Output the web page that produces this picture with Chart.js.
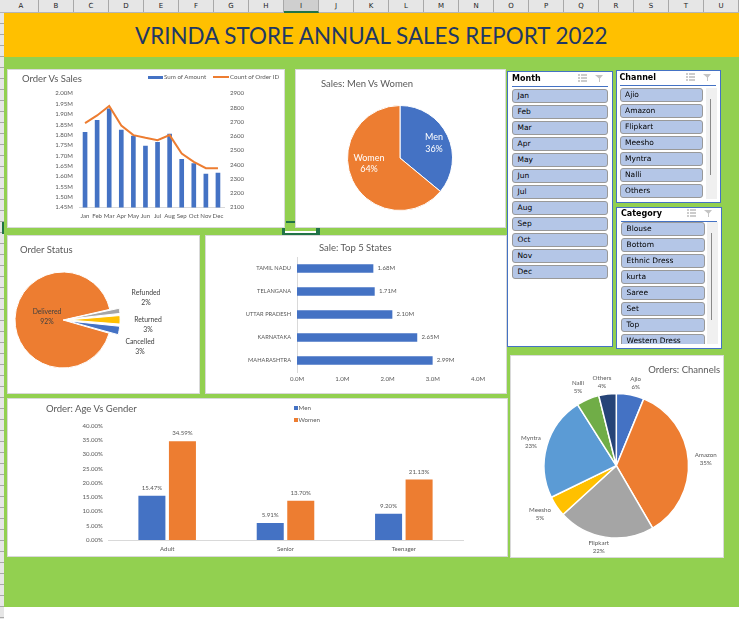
<!DOCTYPE html>
<html>
<head>
<meta charset="utf-8">
<title>Vrinda Store Annual Sales Report 2022</title>
<script src="https://cdn.jsdelivr.net/npm/chart.js@4"></script>
<style>
html, body { margin: 0; padding: 0; background: #fff; }
#sheet { position: relative; width: 750px; height: 619px; overflow: hidden; font-family: Lato, sans-serif; color: #595959; background: #fff; }
.abs { position: absolute; }
#colhead { left: 0; top: 0; width: 739px; height: 13px; background: #e6e6e6; border-bottom: 1px solid #b5b5b5; box-sizing: border-box; }
.col { position: absolute; top: 0; width: 35px; height: 12px; border-right: 1px solid #a8a8a8; box-sizing: border-box; text-align: center; font: 7px/13px "DejaVu Sans", sans-serif; color: #222; }
.col.sel { background: #cfcfcf; border-bottom: 2px solid #217346; height: 13px; }
#rowhead { left: 0; top: 13px; width: 3.5px; height: 606px; background: repeating-linear-gradient(to bottom, #e6e6e6 0, #e6e6e6 9.8px, #a8a8a8 9.8px, #a8a8a8 11px); }
#green { left: 3.5px; top: 57px; width: 735.5px; height: 550px; background: #92d050; }
#banner { left: 3.5px; top: 13px; width: 735.5px; height: 44px; background: #ffc000; text-align: center; font-size: 22.4px; line-height: 45px; color: #1f3864; }
.card { position: absolute; background: #fff; box-shadow: inset 0 0 0 1px #d9d9d9; }
.card canvas { position: absolute; left: 0; top: 0; }
.title { position: absolute; font-size: 9.5px; line-height: 13px; white-space: nowrap; color: #595959; }
.legend { position: absolute; font-size: 6.2px; line-height: 9px; white-space: nowrap; color: #595959; }
.legend i { display: inline-block; vertical-align: middle; margin-right: 1px; }
.slicer { position: absolute; background: #fff; border: 1px solid #4472c4; box-sizing: border-box; overflow: hidden; font-family: "DejaVu Sans", sans-serif; color: #000; }
.slicer h4 { position: absolute; margin: 0; font-size: 8px; line-height: 10px; font-weight: bold; }
.slicer .rule { position: absolute; height: 1px; background: #4472c4; }
.slicer .item { position: absolute; height: 13.5px; box-sizing: border-box; background: #b4c6e7; border: 1px solid #999; border-radius: 3px; font-size: 7.5px; line-height: 11.5px; padding-left: 4.5px; white-space: nowrap; }
.slicer .track { position: absolute; width: 11px; background: #f0f0f0; }
.slicer .thumb { position: absolute; width: 1px; background: #8a8a8a; }
.slicer svg { position: absolute; width: 9px; height: 9px; }
</style>
</head>
<body>
<div id="sheet">
  <div id="colhead" class="abs"></div>
  <div id="rowhead" class="abs"></div>
  <div id="green" class="abs"></div>
  <div id="banner" class="abs">VRINDA STORE ANNUAL SALES REPORT 2022</div>

  <div class="abs" style="left:2px;top:222px;width:1.5px;height:12px;background:#217346"></div>
  <div class="abs" style="left:286px;top:221px;width:9px;height:2px;background:#217346"></div>
  <div class="abs" style="left:282px;top:228px;width:3px;height:7px;background:#217346"></div>
  <div class="abs" style="left:285px;top:231px;width:31px;height:2px;background:#fff"></div>
  <div class="abs" style="left:282px;top:233px;width:38px;height:2px;background:#217346"></div>
  <div class="abs" style="left:316px;top:228px;width:4px;height:5px;background:#217346"></div>

  <div class="card" style="left:7px;top:69px;width:278px;height:159px">
    <canvas id="orderSalesChart" width="278" height="159"></canvas>
    <div class="title" style="left:15px;top:3px">Order Vs Sales</div>
    <div id="orderSalesLegend"></div>
  </div>
  <div class="card" style="left:295px;top:69px;width:211px;height:159px">
    <canvas id="genderChart" width="211" height="159"></canvas>
    <div class="title" style="left:26px;top:8px">Sales: Men Vs Women</div>
  </div>
  <div class="card" style="left:7px;top:235px;width:193px;height:159px">
    <canvas id="statusChart" width="203" height="159" style="left:-10px"></canvas>
    <div class="title" style="left:13px;top:8px">Order Status</div>
  </div>
  <div class="card" style="left:205px;top:235px;width:302px;height:159px">
    <canvas id="statesChart" width="302" height="159"></canvas>
    <div class="title" style="left:114px;top:6px">Sale: Top 5 States</div>
  </div>
  <div class="card" style="left:7px;top:398px;width:501px;height:159px">
    <canvas id="ageChart" width="501" height="159"></canvas>
    <div class="title" style="left:39px;top:4px">Order: Age Vs Gender</div>
    <div id="ageLegend"></div>
  </div>
  <div class="card" style="left:510px;top:355px;width:214px;height:203px">
    <canvas id="channelChart" width="214" height="203"></canvas>
    <div class="title" style="right:4px;top:8px">Orders: Channels</div>
  </div>

  <div id="slicers"></div>
</div>

<script>
const months = ['Jan', 'Feb', 'Mar', 'Apr', 'May', 'Jun', 'Jul', 'Aug', 'Sep', 'Oct', 'Nov', 'Dec'];
const sumOfAmount = [1.813, 1.871, 1.926, 1.823, 1.794, 1.746, 1.765, 1.804, 1.683, 1.662, 1.611, 1.616];
const countOfOrders = [2692, 2746, 2813, 2675, 2608, 2589, 2572, 2608, 2479, 2420, 2376, 2376];

const genders = ['Men', 'Women'];
const genderSales = [36, 64];

const statuses = ['Delivered', 'Refunded', 'Returned', 'Cancelled'];
const statusOrders = [92, 2, 3, 3];

const states = ['TAMIL NADU', 'TELANGANA', 'UTTAR PRADESH', 'KARNATAKA', 'MAHARASHTRA'];
const stateSales = [1.68, 1.71, 2.10, 2.65, 2.99];

const ageGroups = ['Adult', 'Senior', 'Teenager'];
const menOrders = [15.47, 5.91, 9.20];
const womenOrders = [34.59, 13.70, 21.13];

const channels = ['Ajio', 'Amazon', 'Flipkart', 'Meesho', 'Myntra', 'Nalli', 'Others'];
const channelOrders = [6.2, 35.4, 21.6, 4.6, 23.2, 5.1, 3.9];

const categories = ['Blouse', 'Bottom', 'Ethnic Dress', 'kurta', 'Saree', 'Set', 'Top', 'Western Dress'];
const columnLetters = ['A', 'B', 'C', 'D', 'E', 'F', 'G', 'H', 'I', 'J', 'K', 'L', 'M', 'N', 'O', 'P', 'Q', 'R', 'S', 'T', 'U'];

const BLUE = '#4472C4';
const ORANGE = '#ED7D31';
const GREY_TEXT = '#595959';
const AXIS_LINE = '#D9D9D9';

Chart.defaults.font.family = 'Lato, sans-serif';
Chart.defaults.font.size = 6.1;
Chart.defaults.color = GREY_TEXT;
Chart.defaults.animation = false;
Chart.defaults.events = [];
Chart.defaults.plugins.legend.display = false;
Chart.defaults.plugins.tooltip.enabled = false;

// value above / beside each bar
const barLabels = {
    id: 'barLabels',
    afterDatasetsDraw(chart, args, opts) {
        const ctx = chart.ctx;
        ctx.save();
        ctx.font = '6.1px Lato, sans-serif';
        ctx.fillStyle = GREY_TEXT;
        chart.data.datasets.forEach((ds, d) => {
            chart.getDatasetMeta(d).data.forEach((bar, i) => {
                const text = opts.format(ds.data[i]);
                if (chart.options.indexAxis === 'y') {
                    ctx.textAlign = 'left';
                    ctx.textBaseline = 'middle';
                    ctx.fillText(text, bar.x + 4.5, bar.y);
                } else {
                    ctx.textAlign = 'center';
                    ctx.textBaseline = 'bottom';
                    ctx.fillText(text, bar.x, bar.y - 5);
                }
            });
        });
        ctx.restore();
    }
};

// two line "name / percent" labels, placed relative to the pie centre
const pieLabels = {
    id: 'pieLabels',
    afterDatasetsDraw(chart, args, opts) {
        const ctx = chart.ctx;
        const values = chart.data.datasets[0].data;
        const total = values.reduce((a, b) => a + b, 0);
        ctx.save();
        ctx.font = opts.font;
        ctx.fillStyle = opts.color;
        ctx.textAlign = 'center';
        ctx.textBaseline = 'middle';
        chart.getDatasetMeta(0).data.forEach((arc, i) => {
            const [dx, dy] = opts.offsets[i];
            const x = arc.x + dx;
            const y = arc.y + dy;
            ctx.fillText(chart.data.labels[i], x, y - opts.lineGap / 2);
            ctx.fillText(Math.round(values[i] / total * 100) + '%', x, y + opts.lineGap / 2);
        });
        ctx.restore();
    }
};

function fixedWidth(width) {
    return function (scale) { scale.width = width; };
}
function fixedHeight(height) {
    return function (scale) { scale.height = height; };
}

// padding that puts a pie of radius r at (cx, cy) in a w x h canvas
function piePadding(w, h, cx, cy, r) {
    return { left: cx - r, right: w - cx - r, top: cy - r, bottom: h - cy - r };
}

new Chart(document.getElementById('orderSalesChart'), {
    type: 'bar',
    data: {
        labels: months,
        datasets: [
            { type: 'line', label: 'Count of Order ID', data: countOfOrders, yAxisID: 'yOrders', borderColor: ORANGE, backgroundColor: ORANGE, borderWidth: 2, pointRadius: 0, tension: 0, order: 0 },
            { type: 'bar', label: 'Sum of Amount', data: sumOfAmount, yAxisID: 'ySales', backgroundColor: BLUE, barThickness: 4, order: 1 }
        ]
    },
    options: {
        responsive: false,
        layout: { padding: { top: 24.5, bottom: 5.5, left: 0, right: 21 } },
        scales: {
            x: {
                grid: { display: false, drawTicks: false },
                border: { color: AXIS_LINE },
                ticks: { autoSkip: false, maxRotation: 0, padding: 5 },
                afterFit: fixedHeight(15)
            },
            ySales: {
                position: 'left',
                min: 1.45, max: 2.0,
                grid: { display: false, drawTicks: false },
                border: { display: false },
                ticks: { stepSize: 0.05, autoSkip: false, padding: 6, callback: v => v.toFixed(2) + 'M' },
                afterFit: fixedWidth(72)
            },
            yOrders: {
                position: 'right',
                min: 2100, max: 2900,
                grid: { display: false, drawTicks: false },
                border: { display: false },
                ticks: { stepSize: 100, autoSkip: false, padding: 6, callback: v => String(v) },
                afterFit: fixedWidth(40)
            }
        }
    }
});

new Chart(document.getElementById('genderChart'), {
    type: 'pie',
    data: {
        labels: genders,
        datasets: [{ data: genderSales, backgroundColor: [BLUE, ORANGE], borderColor: '#fff', borderWidth: 1 }]
    },
    options: {
        responsive: false,
        layout: { padding: piePadding(211, 159, 105, 89, 53) },
        plugins: {
            pieLabels: { font: '9px Lato, sans-serif', color: '#fff', lineGap: 11.5, offsets: [[34, -15], [-31, 5.5]] }
        }
    },
    plugins: [pieLabels]
});

new Chart(document.getElementById('statusChart'), {
    type: 'pie',
    data: {
        labels: statuses,
        datasets: [{
            data: statusOrders,
            backgroundColor: [ORANGE, '#A5A5A5', '#FFC000', BLUE],
            borderColor: '#fff',
            borderWidth: 1,
            offset: [0, 20, 20, 20]
        }]
    },
    options: {
        responsive: false,
        rotation: 106,
        layout: { padding: piePadding(203, 159, 66, 85, 58.5) },
        plugins: {
            pieLabels: { font: '6.8px Lato, sans-serif', color: '#404040', lineGap: 10, offsets: [[-16, -3], [83, -22], [85, 5], [77, 27]] }
        }
    },
    plugins: [pieLabels]
});

new Chart(document.getElementById('statesChart'), {
    type: 'bar',
    data: {
        labels: states,
        datasets: [{ label: 'Sales', data: stateSales, backgroundColor: BLUE, barThickness: 8 }]
    },
    options: {
        responsive: false,
        indexAxis: 'y',
        layout: { padding: { top: 22, bottom: 7, left: 0, right: 29 } },
        scales: {
            x: {
                min: 0, max: 4,
                grid: { display: false, drawTicks: false },
                border: { display: false },
                ticks: { stepSize: 1, maxRotation: 0, padding: 3, callback: v => v.toFixed(1) + 'M' },
                afterFit: fixedHeight(15)
            },
            y: {
                grid: { display: false, drawTicks: false },
                border: { color: AXIS_LINE },
                ticks: { autoSkip: false, padding: 6, font: { size: 5.7 } },
                afterFit: fixedWidth(92)
            }
        },
        plugins: { barLabels: { format: v => v.toFixed(2) + 'M' } }
    },
    plugins: [barLabels]
});

new Chart(document.getElementById('ageChart'), {
    type: 'bar',
    data: {
        labels: ageGroups,
        datasets: [
            { label: 'Men', data: menOrders, backgroundColor: BLUE, categoryPercentage: 0.516, barPercentage: 0.885 },
            { label: 'Women', data: womenOrders, backgroundColor: ORANGE, categoryPercentage: 0.516, barPercentage: 0.885 }
        ]
    },
    options: {
        responsive: false,
        layout: { padding: { top: 27.7, bottom: 2, left: 0, right: 45 } },
        scales: {
            x: {
                grid: { display: false, drawTicks: false },
                border: { color: AXIS_LINE },
                ticks: { padding: 5, maxRotation: 0 },
                afterFit: fixedHeight(15)
            },
            y: {
                min: 0, max: 40,
                grid: { display: false, drawTicks: false },
                border: { display: false },
                ticks: { stepSize: 5, autoSkip: false, padding: 5, callback: v => v.toFixed(2) + '%' },
                afterFit: fixedWidth(101)
            }
        },
        plugins: { barLabels: { format: v => v.toFixed(2) + '%' } }
    },
    plugins: [barLabels]
});

new Chart(document.getElementById('channelChart'), {
    type: 'pie',
    data: {
        labels: channels,
        datasets: [{
            data: channelOrders,
            backgroundColor: [BLUE, ORANGE, '#A5A5A5', '#FFC000', '#5B9BD5', '#70AD47', '#264478'],
            borderColor: '#fff',
            borderWidth: 1.5
        }]
    },
    options: {
        responsive: false,
        layout: { padding: piePadding(214, 203, 106.3, 110.7, 73) },
        plugins: {
            pieLabels: {
                font: '6.2px Lato, sans-serif',
                color: GREY_TEXT,
                lineGap: 8,
                offsets: [[19.4, -83], [89.4, -6.7], [-17.6, 81.3], [-76.3, 48], [-85.3, -24], [-38.3, -78.7], [-14.3, -84]]
            }
        }
    },
    plugins: [pieLabels]
});

// legends
function legendEntry(parent, left, top, text, color, w, h) {
    const el = document.createElement('div');
    el.className = 'legend';
    el.style.left = left + 'px';
    el.style.top = top + 'px';
    const swatch = document.createElement('i');
    swatch.style.width = w + 'px';
    swatch.style.height = h + 'px';
    swatch.style.background = color;
    el.appendChild(swatch);
    el.appendChild(document.createTextNode(text));
    parent.appendChild(el);
}
const salesLegend = document.getElementById('orderSalesLegend');
legendEntry(salesLegend, 141, 3, 'Sum of Amount', BLUE, 15, 3);
legendEntry(salesLegend, 206, 3, 'Count of Order ID', ORANGE, 16, 2);
const ageLegend = document.getElementById('ageLegend');
legendEntry(ageLegend, 287, 4.5, genders[0], BLUE, 3.5, 3.5);
legendEntry(ageLegend, 287, 16.5, genders[1], ORANGE, 3.5, 3.5);

// spreadsheet column header
const colhead = document.getElementById('colhead');
columnLetters.forEach((letter, i) => {
    const c = document.createElement('div');
    c.className = 'col' + (letter === 'I' ? ' sel' : '');
    c.style.left = (4 + i * 35) + 'px';
    c.textContent = letter;
    colhead.appendChild(c);
});

// slicers
const iconSvg = '<svg viewBox="0 0 9 9"><path d="M0 1h2M3 1h6M0 4h2M3 4h6M0 7h2M3 7h6" stroke="#999" stroke-width="1"/></svg>';
const clearSvg = '<svg viewBox="0 0 9 9"><path d="M0 1h8L5 4.5V8H4V4.5z" fill="#c4c4c4"/></svg>';

function addSlicer(name, items, box, list, scroll) {
    const s = document.createElement('div');
    s.className = 'slicer';
    s.style.cssText = `left:${box.x}px;top:${box.y}px;width:${box.w}px;height:${box.h}px`;
    let html = `<h4 style="left:${list.x - box.x - 1}px;top:${list.head - box.y - 1}px">${name}</h4>`;
    html += `<div class="rule" style="left:${list.x - box.x - 1}px;top:${list.rule - box.y - 1}px;width:${list.ruleW}px"></div>`;
    const iconTop = list.head - box.y - 1;
    html += iconSvg.replace('<svg', `<svg style="left:${box.w - 36}px;top:${iconTop}px"`);
    html += clearSvg.replace('<svg', `<svg style="left:${box.w - 19}px;top:${iconTop}px"`);
    if (scroll) {
        html += `<div class="track" style="left:${scroll.x - box.x - 1}px;top:${list.y - box.y - 1}px;height:${scroll.h}px"></div>`;
        html += `<div class="thumb" style="left:${scroll.x - box.x + 3}px;top:${list.y - box.y + 10}px;height:${scroll.thumb}px"></div>`;
    }
    items.forEach((it, i) => {
        html += `<div class="item" style="left:${list.x - box.x - 1}px;top:${list.y - box.y - 1 + i * 16}px;width:${list.w}px">${it}</div>`;
    });
    if (list.clip) {
        html += `<div style="position:absolute;left:0;right:11px;top:${list.clip - box.y - 1}px;bottom:0;background:#fff"></div>`;
    }
    s.innerHTML = html;
    document.getElementById('slicers').appendChild(s);
}
addSlicer('Month', months,
    { x: 507, y: 71, w: 106, h: 276 },
    { x: 512, y: 89, w: 96, head: 74, rule: 86, ruleW: 96 });
addSlicer('Channel', channels,
    { x: 616, y: 70, w: 105, h: 133 },
    { x: 619.5, y: 88, w: 83.5, head: 73, rule: 85, ruleW: 96 },
    { x: 706, h: 111, thumb: 76 });
addSlicer('Category', categories,
    { x: 616, y: 207, w: 106, h: 142 },
    { x: 621, y: 222, w: 83.5, head: 209, rule: 221, ruleW: 96, clip: 344 },
    { x: 707, h: 122, thumb: 87 });
</script>
</body>
</html>
